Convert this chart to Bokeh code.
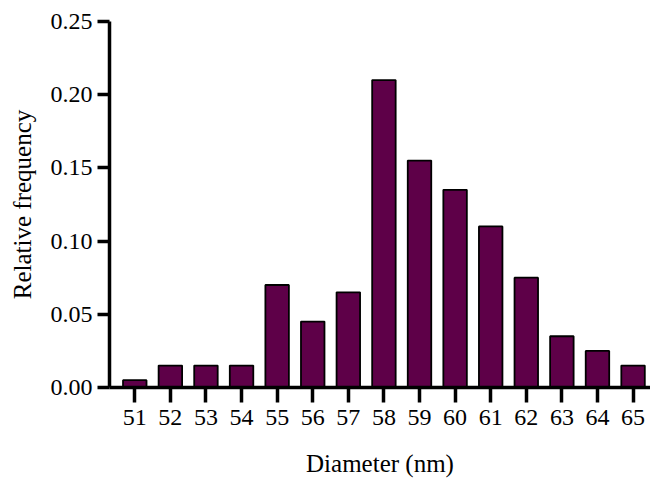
from bokeh.plotting import figure
from bokeh.models import Range1d, FixedTicker, NumeralTickFormatter
from bokeh.embed import file_html
from bokeh.resources import INLINE

diameters = [51, 52, 53, 54, 55, 56, 57, 58, 59, 60, 61, 62, 63, 64, 65]
freq = [0.005, 0.015, 0.015, 0.015, 0.07, 0.045, 0.065, 0.21, 0.155, 0.135, 0.11, 0.075, 0.035, 0.025, 0.015]
y_ticks = [0.0, 0.05, 0.10, 0.15, 0.20, 0.25]
x_title = "Diameter (nm)"
y_title = "Relative frequency"

FONT = "Liberation Serif"

p = figure(width=650, height=480, output_backend="svg", toolbar_location=None,
           x_range=Range1d(50.29, 65.49), y_range=Range1d(0, 0.25),
           min_border_left=109, min_border_right=0, min_border_top=21, min_border_bottom=93)
p.vbar(x=diameters, top=freq, width=0.66, bottom=0, fill_color="#5e0048",
       line_color="black", line_width=1.8)

p.xgrid.visible = False
p.ygrid.visible = False
p.outline_line_color = None
p.background_fill_color = "white"

for ax in (p.xaxis[0], p.yaxis[0]):
    ax.axis_line_width = 3.5
    ax.major_tick_line_width = 3.5
    ax.minor_tick_line_color = None
    ax.major_tick_in = 0
    ax.major_label_text_font = FONT
    ax.major_label_text_font_size = "24px"
    ax.major_label_text_color = "black"
    ax.axis_label_text_font = FONT
    ax.axis_label_text_font_size = "25px"
    ax.axis_label_text_font_style = "normal"
    ax.axis_label_text_color = "black"

p.xaxis.ticker = FixedTicker(ticks=diameters)
p.xaxis.major_tick_out = 15
p.xaxis.major_label_standoff = 7
p.xaxis.axis_label = x_title
p.xaxis.axis_label_standoff = 22

p.yaxis.ticker = FixedTicker(ticks=y_ticks)
p.yaxis.formatter = NumeralTickFormatter(format="0.00")
p.yaxis.major_tick_out = 12
p.yaxis.major_label_standoff = 5
p.yaxis.axis_label = y_title
p.yaxis.axis_label_standoff = 12

open("out.html", "w").write(file_html(p, INLINE))
